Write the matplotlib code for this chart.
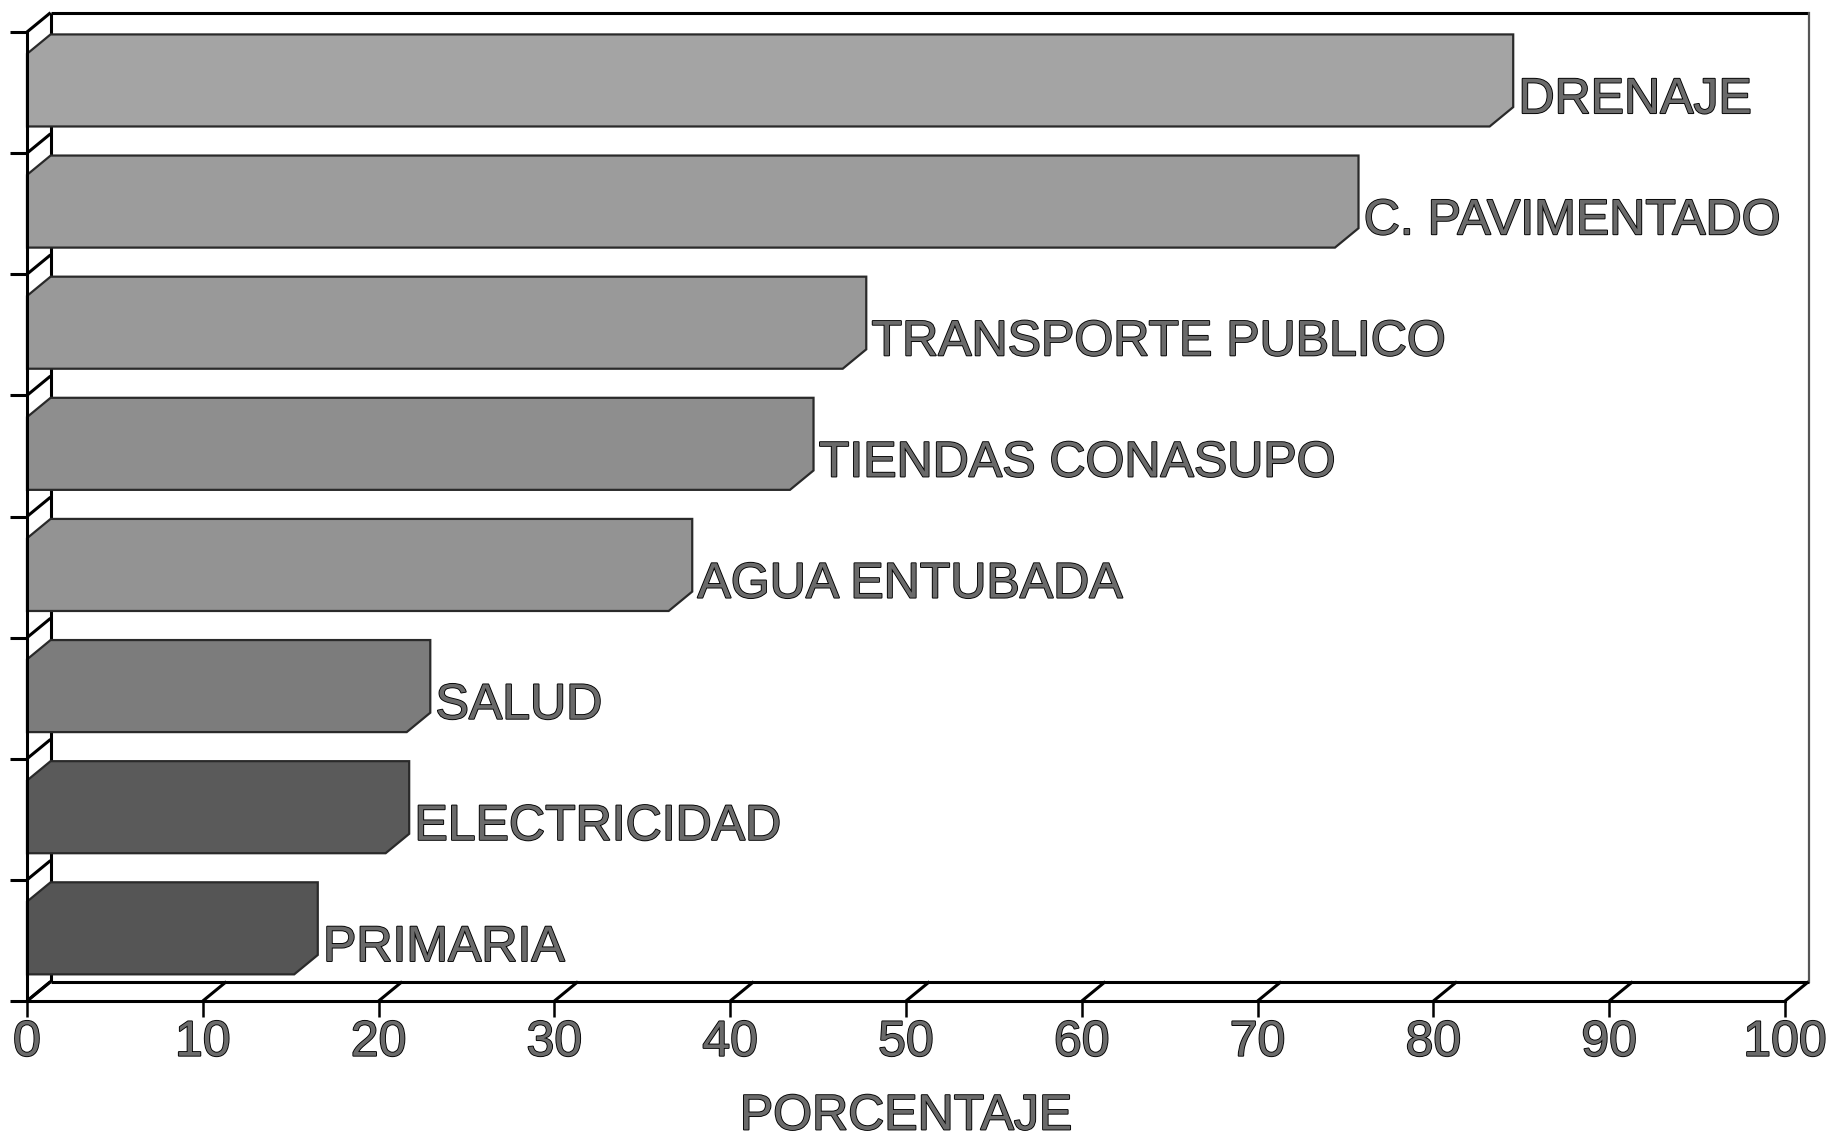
"""
Servicios en la localidad: grafica de barras horizontales con efecto 3D
"""

import matplotlib
matplotlib.use("Agg")
import matplotlib.pyplot as plt
from matplotlib.patches import Polygon
import matplotlib.patheffects as pe

# -----------------------------------------------------------------------------
# Datos (de abajo hacia arriba)
# -----------------------------------------------------------------------------
categorias = [
    "PRIMARIA",
    "ELECTRICIDAD",
    "SALUD",
    "AGUA ENTUBADA",
    "TIENDAS CONASUPO",
    "TRANSPORTE PUBLICO",
    "C. PAVIMENTADO",
    "DRENAJE",
]
porcentaje = [15.2, 20.4, 21.6, 36.5, 43.4, 46.4, 74.4, 83.2]
marcas_x = list(range(0, 101, 10))

# tonos de gris de cada barra (trama escaneada)
tonos = ["#555555", "#5a5a5a", "#7c7c7c", "#939393",
         "#8e8e8e", "#999999", "#9c9c9c", "#a4a4a4"]

plt.rcParams["font.family"] = ["Liberation Sans", "DejaVu Sans"]

W, H, DPI = 1834, 1141, 100
FS = 36
DX, DY = 1.34, 0.16          # profundidad del efecto 3D (unidades de datos)
BAR_H, BAR_OFF = 0.60, 0.52
COLOR_TXT = "#6a6a6a"

texto_fx = [pe.withStroke(linewidth=1.3, foreground="black")]

fig = plt.figure(figsize=(W / DPI, H / DPI), dpi=DPI)
ax = fig.add_axes([27 / W, 1 - 1001 / H, (1785 - 27) / W, (1001 - 32) / H])

n = len(categorias)
ax.set_xlim(0, 100)
ax.set_ylim(0, n)

# ============================================================
# PAREDES / PISO
# ============================================================
lk = dict(color="black", lw=2.2, clip_on=False, zorder=1, solid_capstyle="butt")
ax.plot([DX, 100 + DX], [DY, DY], **lk)
ax.plot([DX, 100 + DX], [n + DY, n + DY], **lk)
ax.plot([DX, DX], [DY, n + DY], **lk)
ax.plot([100 + DX, 100 + DX], [DY, n + DY], color="#555555", lw=1.6,
        clip_on=False, zorder=1)
for xm in marcas_x:
    ax.plot([xm, xm + DX], [0, DY], **lk)
for ym in range(n + 1):
    ax.plot([0, DX], [ym, ym + DY], **lk)

# ============================================================
# BARRAS
# ============================================================
ypos = [i + BAR_OFF for i in range(n)]
ax.barh(ypos, porcentaje, height=BAR_H, color=tonos, edgecolor="none", zorder=3)

for y, v, c, lab in zip(ypos, porcentaje, tonos, categorias):
    yb, yt = y - BAR_H / 2, y + BAR_H / 2
    caja = [(0, yb), (v, yb), (v + DX, yb + DY), (v + DX, yt + DY),
            (DX, yt + DY), (0, yt)]
    ax.add_patch(Polygon(caja, closed=True, facecolor=c, edgecolor="none",
                         zorder=2, clip_on=False))
    ax.add_patch(Polygon(caja, closed=True, fill=False, edgecolor="#2a2a2a",
                         lw=1.6, zorder=4, clip_on=False))
    ax.text(v + DX + 0.3, y - 0.19, lab, fontsize=FS, color=COLOR_TXT,
            ha="left", va="baseline", path_effects=texto_fx, zorder=5)

# ============================================================
# EJES
# ============================================================
for sp in ["top", "right"]:
    ax.spines[sp].set_visible(False)
for sp in ["left", "bottom"]:
    ax.spines[sp].set_linewidth(2.2)
    ax.spines[sp].set_zorder(5)

ax.set_xticks(marcas_x)
ax.set_yticks(range(n + 1))
ax.set_yticklabels([])
ax.tick_params(axis="x", direction="out", length=11.5, width=1.8,
               labelsize=FS, pad=2, labelcolor=COLOR_TXT)
ax.tick_params(axis="y", direction="out", length=12, width=2.2)
for t in ax.get_xticklabels():
    t.set_path_effects(texto_fx)

ax.set_xlabel("PORCENTAJE", fontsize=FS, color=COLOR_TXT, labelpad=20,
              path_effects=texto_fx)

fig.savefig("out.png", dpi=DPI)
